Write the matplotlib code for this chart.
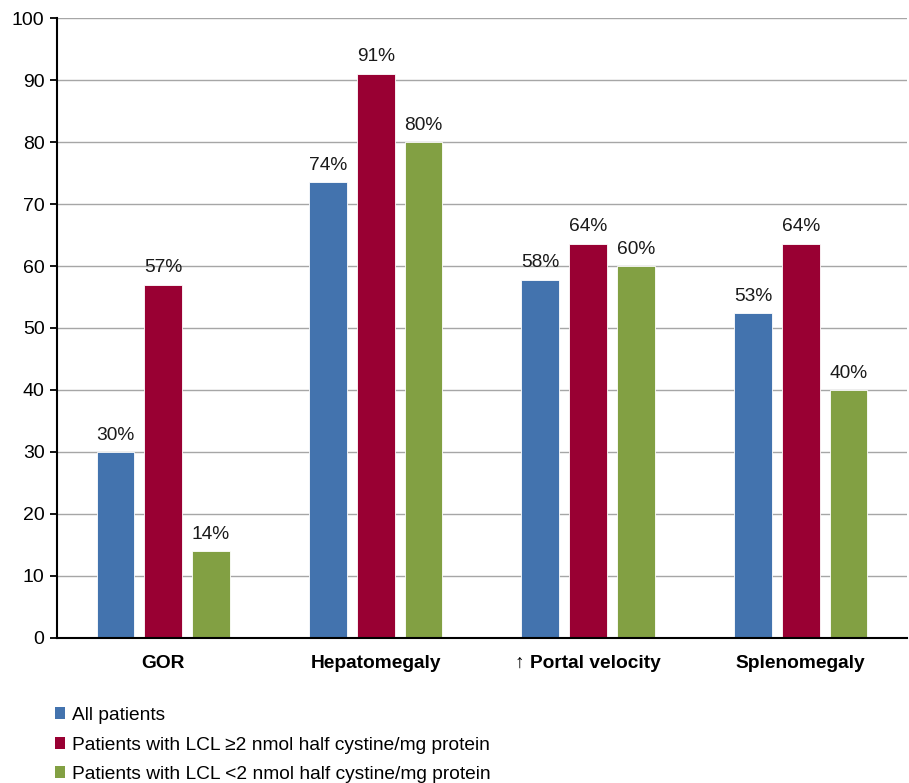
import matplotlib.pyplot as plt
from matplotlib.patches import Patch
import numpy as np

plt.rcParams['font.family'] = ['Liberation Sans', 'DejaVu Sans']

# data
categories = ['GOR', 'Hepatomegaly', '\u2191 Portal velocity', 'Splenomegaly']
series_names = ['All patients',
                'Patients with LCL \u22652 nmol half cystine/mg protein',
                'Patients with LCL <2 nmol half cystine/mg protein']
all_patients = [30, 73.5, 57.8, 52.4]
lcl_high = [57, 91, 63.6, 63.6]
lcl_low = [14, 80, 60, 40]
all_labels = ['30%', '74%', '58%', '53%']
high_labels = ['57%', '91%', '64%', '64%']
low_labels = ['14%', '80%', '60%', '40%']

colors = ['#4373AE', '#990033', '#82A043']

fig = plt.figure(figsize=(9.09, 7.83), dpi=100)
ax = fig.add_axes([0.0627, 0.1852, 0.935, 0.7918])

x = np.arange(len(categories))
width = 0.178
step = 0.225

series = [(all_patients, all_labels), (lcl_high, high_labels), (lcl_low, low_labels)]
for i, (vals, labs) in enumerate(series):
    bars = ax.bar(x + (i - 1) * step, vals, width, color=colors[i],
                  edgecolor='white', linewidth=0.6, zorder=3)
    for b, lab in zip(bars, labs):
        ax.annotate(lab, (b.get_x() + b.get_width() / 2, b.get_height()),
                    xytext=(0, 6), textcoords='offset points',
                    ha='center', va='bottom', fontsize=13.8, color='#1a1a1a')

ax.set_xlim(-0.5, 3.5)
ax.set_ylim(0, 100)
ax.set_yticks(range(0, 101, 10))
ax.set_xticks(x)
ax.set_xticklabels(categories, fontsize=13.8, fontweight='bold')
ax.tick_params(axis='x', length=0, pad=12)
ax.tick_params(axis='y', length=5, width=1.3, labelsize=14, pad=4, direction='out')
ax.yaxis.grid(True, color='#a6a6a6', lw=1, zorder=0)
ax.set_axisbelow(True)

for s in ['top', 'right']:
    ax.spines[s].set_visible(False)
for s in ['left', 'bottom']:
    ax.spines[s].set_linewidth(1.5)
    ax.spines[s].set_zorder(4)

handles = [Patch(facecolor=c) for c in colors]
fig.legend(handles, series_names, loc='upper left', bbox_to_anchor=(0.06, 0.097),
           frameon=False, fontsize=13.8, handlelength=0.55, handleheight=0.55,
           handletextpad=0.35, labelspacing=0.65, borderpad=0, borderaxespad=0)

fig.savefig('out.png', dpi=100)
